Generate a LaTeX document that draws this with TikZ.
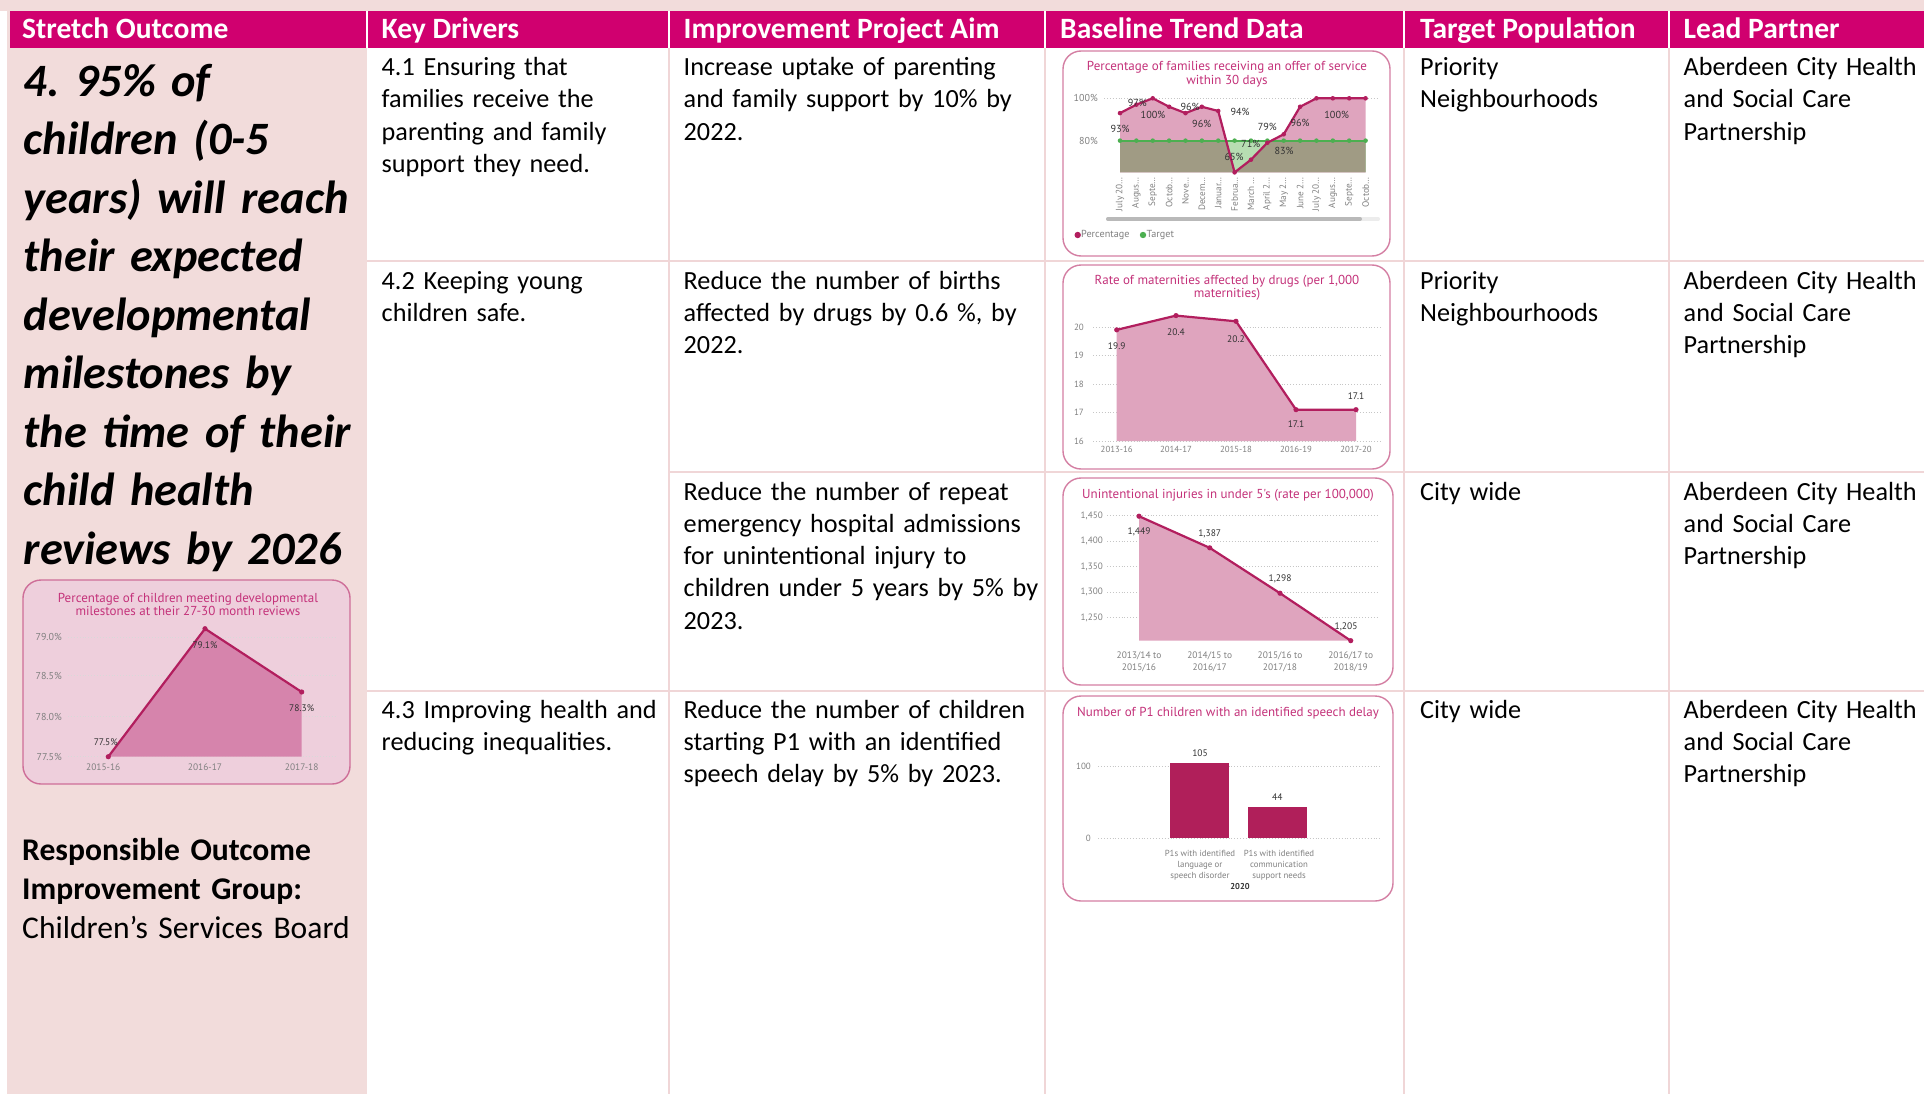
\documentclass[tikz,border=0pt]{standalone}
\usepackage{fontspec}
\setmainfont{Carlito}
\newfontfamily\chartfont{PT Sans}
\frenchspacing
\definecolor{hdr}{HTML}{D0006F}
\definecolor{lpink}{HTML}{F2DCDB}
\definecolor{gridpk}{HTML}{F0D6D7}
\definecolor{boxpk}{HTML}{D47FA3}
\definecolor{ttl}{HTML}{C4327A}
\definecolor{linec}{HTML}{B21E5E}
\definecolor{areapk}{HTML}{DFA4BE}
\definecolor{khaki}{HTML}{A09B84}
\definecolor{lgreen}{HTML}{B7DDB2}
\definecolor{tgreen}{HTML}{4CAF50}
\definecolor{axisg}{HTML}{808080}
\definecolor{labd}{HTML}{333333}
\definecolor{barc}{HTML}{B01F5A}
\definecolor{lcbg}{HTML}{EECFDC}
\definecolor{lcfill}{HTML}{D684AC}
\definecolor{lcbox}{HTML}{CE6E98}
\begin{document}
\begin{tikzpicture}[x=1pt,y=-1pt,
 hdrtxt/.style={anchor=base west, inner sep=0, text=white, font=\fontsize{29.5}{35}\selectfont\bfseries},
 celltxt/.style={anchor=base west, inner sep=0, text width=360pt, align=left, font=\fontsize{26.2}{32.3}\selectfont},
 gridln/.style={draw=gridpk, line width=2.5},
 chartbox/.style={draw=boxpk, line width=1.4, rounded corners=18},
 ctitle/.style={inner sep=0, text=ttl, align=center, font=\chartfont\fontsize{13}{13.3}\selectfont},
 axlab/.style={inner sep=0, text=axisg, font=\chartfont\fontsize{8.8}{10}\selectfont},
 xlab/.style={inner sep=0, text=axisg, align=center, font=\chartfont\fontsize{8.8}{11.3}\selectfont},
 dlab/.style={inner sep=0, text=labd, font=\chartfont\fontsize{9.5}{11}\selectfont},
 gdot/.style={draw=gray!45, dotted, line width=0.9},
 pline/.style={draw=linec, line width=2.2, line join=round}]
\useasboundingbox (0,0) rectangle (1924,1094);
\fill[white] (0,0) rectangle (1924,1094);
% background bands
\fill[lpink] (0,0) rectangle (1924,10.7);
\fill[lpink] (7,10.7) rectangle (367,1094);
\fill[hdr] (10,10.7) rectangle (1924,47.7);
\foreach \x in {367,669,1045,1404,1669} \draw[white,line width=2.5] (\x,10.7) -- (\x,47.7);
% grid
\foreach \x in {669,1045,1404,1669} \draw[gridln] (\x,47.7) -- (\x,1094);
\draw[gridln] (367,261) -- (1924,261);
\draw[gridln] (669,472) -- (1924,472);
\draw[gridln] (367,691) -- (1924,691);
% header
\node[hdrtxt] (h1) at (22,38.5) {Stretch Outcome};
\node[hdrtxt] (h2) at (381.5,38.5) {Key Drivers};
\node[hdrtxt] (h3) at (683.5,38.5) {Improvement Project Aim};
\node[hdrtxt] (h4) at (1060,38.5) {Baseline Trend Data};
\node[hdrtxt] (h5) at (1420,38.5) {Target Population};
\node[hdrtxt] (h6) at (1683.5,38.5) {Lead Partner};
% stretch outcome
\node[anchor=base west, inner sep=0, text width=345pt, align=left, font=\fontsize{46.4}{58.5}\selectfont\bfseries\itshape] (so) at (23.5,96.5)
 {4. 95\% of\\children (0-5\\years) will reach\\their expected\\developmental\\milestones by\\the time of their\\child health\\reviews by 2026};
\node[anchor=base west, inner sep=0, text width=345pt, align=left, font=\fontsize{31.6}{39}\selectfont] (rog) at (22,860)
 {\textbf{Responsible Outcome}\\\textbf{Improvement Group:}\\Children’s Services Board};
% key drivers
\node[celltxt] (kd1) at (381.5,75.5) {4.1 Ensuring that\\families receive the\\parenting and family\\support they need.};
\node[celltxt] (kd2) at (381.5,289) {4.2 Keeping young\\children safe.};
\node[celltxt] (kd3) at (381.5,718) {4.3 Improving health and\\reducing inequalities.};
% aims
\node[celltxt] (a1) at (683.5,75.5) {Increase uptake of parenting\\and family support by 10\% by\\2022.};
\node[celltxt] (a2) at (683.5,289) {Reduce the number of births\\affected by drugs by 0.6 \%, by\\2022.};
\node[celltxt] (a3) at (683.5,500) {Reduce the number of repeat\\emergency hospital admissions\\for unintentional injury to\\children under 5 years by 5\% by\\2023.};
\node[celltxt] (a4) at (683.5,718) {Reduce the number of children\\starting P1 with an identified\\speech delay by 5\% by 2023.};
% target population
\node[celltxt] (t1) at (1420,75.5) {Priority\\Neighbourhoods};
\node[celltxt] (t2) at (1420,289) {Priority\\Neighbourhoods};
\node[celltxt] (t3) at (1420,500) {City wide};
\node[celltxt] (t4) at (1420,718) {City wide};
% lead partner
\node[celltxt] (l1) at (1683.5,75.5) {Aberdeen City Health\\and Social Care\\Partnership};
\node[celltxt] (l2) at (1683.5,289) {Aberdeen City Health\\and Social Care\\Partnership};
\node[celltxt] (l3) at (1683.5,500) {Aberdeen City Health\\and Social Care\\Partnership};
\node[celltxt] (l4) at (1683.5,718) {Aberdeen City Health\\and Social Care\\Partnership};

% ===== Chart 1 =====
\draw[chartbox, fill=white] (1063,51) rectangle (1390,256);
\node[ctitle] (c1t) at (1227,74.3) {Percentage of families receiving an offer of service\\within 30 days};
\draw[gdot] (1104,98.3) -- (1378,98.3);
\begin{scope}[shift={(1120,310)},x=16.37pt,y=2.117pt]
 \fill[areapk] (0,65) -- (0,93) -- (1,97) -- (2,100) -- (3,96) -- (4,93) -- (5,96) -- (6,94) -- (7,65) -- (8,71) -- (9,79) -- (10,83) -- (11,96) -- (12,100) -- (13,100) -- (14,100) -- (15,100) -- (15,65) -- cycle;
 \fill[lgreen] (0,65) rectangle (15,80);
 \fill[khaki] (0,65) -- (0,80) -- (6.483,80) -- (7,65) -- (8,71) -- (9,79) -- (9.25,80) -- (15,80) -- (15,65) -- cycle;
 \draw[tgreen, line width=2] (0,80) -- (15,80);
 \foreach \i in {0,...,15} \fill[tgreen] (\i,80) circle (2.3pt);
 \draw[pline] plot coordinates {(0,93) (1,97) (2,100) (3,96) (4,93) (5,96) (6,94) (7,65) (8,71) (9,79) (10,83) (11,96) (12,100) (13,100) (14,100) (15,100)};
 \foreach \i/\v in {0/93,1/97,2/100,3/96,4/93,5/96,6/94,7/65,8/71,9/79,10/83,11/96,12/100,13/100,14/100,15/100} \fill[linec] (\i,\v) circle (2.3pt);
\end{scope}
\node[axlab, font=\chartfont\fontsize{10}{11}\selectfont, anchor=east] (c1y1) at (1098,98.3) {100\%};
\node[axlab, font=\chartfont\fontsize{10}{11}\selectfont, anchor=east] (c1y2) at (1098,140.6) {80\%};
\foreach \x/\y/\t [count=\n] in {1120/129.3/93\%, 1137.3/102.7/97\%, 1153/115/100\%, 1190/107/96\%, 1201.7/124/96\%, 1240/111.7/94\%, 1234/156.7/65\%, 1250.7/144.3/71\%, 1267.3/127.3/79\%, 1284/151/83\%, 1300/123.3/96\%, 1336.7/115/100\%}
 \node[dlab, font=\chartfont\fontsize{10.2}{11}\selectfont] (c1d\n) at (\x,\y) {\t};
\foreach \i/\t in {0/July 20…,1/Augus…,2/Septe…,3/Octob…,4/Nove…,5/Decem…,6/Januar…,7/Februa…,8/March …,9/April 2…,10/May 2…,11/June 2…,12/July 20…,13/Augus…,14/Septe…,15/Octob…}
 \node[axlab, font=\chartfont\fontsize{9.2}{10}\selectfont, rotate=90, anchor=east] (c1x\i) at ({1120+16.37*\i},177) {\t};
\draw[line width=4, line cap=round, gray!15] (1108,219) -- (1378,219);
\draw[line width=4, line cap=round, gray!55] (1108,219) -- (1360,219);
\fill[linec] (1077.7,235) circle (3.2pt);
\node[axlab, font=\chartfont\fontsize{10.2}{11}\selectfont, anchor=west] (c1lg1) at (1081,235) {Percentage};
\fill[tgreen] (1143,235) circle (3.2pt);
\node[axlab, font=\chartfont\fontsize{10.2}{11}\selectfont, anchor=west] (c1lg2) at (1146.5,235) {Target};

% ===== Chart 2 =====
\draw[chartbox, fill=white] (1063,265) rectangle (1390,469);
\node[ctitle] (c2t) at (1227,288) {Rate of maternities affected by drugs (per 1,000\\maternities)};
\foreach \yy/\t [count=\n] in {327/20,355.5/19,384/18,412.5/17,441/16} {
 \draw[gdot] (1093,\yy) -- (1382,\yy);
 \node[axlab, font=\chartfont\fontsize{9}{10}\selectfont, anchor=east] (c2y\n) at (1084,\yy) {\t};
}
\begin{scope}[shift={(0,897)},y=28.5pt]
 \fill[areapk] (1116.7,16) -- (1116.7,19.9) -- (1176,20.4) -- (1236,20.2) -- (1296,17.1) -- (1356,17.1) -- (1356,16) -- cycle;
 \draw[pline] (1116.7,19.9) -- (1176,20.4) -- (1236,20.2) -- (1296,17.1) -- (1356,17.1);
 \foreach \x/\v in {1116.7/19.9,1176/20.4,1236/20.2,1296/17.1,1356/17.1} \fill[linec] (\x,\v) circle (2.6pt);
\end{scope}
\foreach \x/\y/\t [count=\n] in {1116.7/346/19.9, 1176/332/20.4, 1236/338.7/20.2, 1296/424.3/17.1, 1356/396/17.1}
 \node[dlab] (c2d\n) at (\x,\y) {\t};
\foreach \x/\t [count=\n] in {1116.7/2013-16, 1176/2014-17, 1236/2015-18, 1296/2016-19, 1356/2017-20}
 \node[axlab] (c2x\n) at (\x,449.3) {\t};

% ===== Chart 3 =====
\draw[chartbox, fill=white] (1063,478) rectangle (1393,685);
\node[ctitle] (c3t) at (1228,495.7) {Unintentional injuries in under 5's (rate per 100,000)};
\foreach \yy/\t [count=\n] in {515.7/{1,450},541.2/{1,400},566.7/{1,350},592.2/{1,300},617.7/{1,250}} {
 \draw[gdot] (1107,\yy) -- (1378,\yy);
 \node[axlab, font=\chartfont\fontsize{9.2}{10}\selectfont, anchor=east] (c3y\n) at (1103,\yy) {\t};
}
\begin{scope}[shift={(0,1255.2)},y=0.51pt]
 \fill[areapk] (1139,1205) -- (1139,1449) -- (1209.7,1387) -- (1280,1298) -- (1350.7,1205) -- cycle;
 \draw[pline] (1139,1449) -- (1209.7,1387) -- (1280,1298) -- (1350.7,1205);
 \foreach \x/\v in {1139/1449,1209.7/1387,1280/1298,1350.7/1205} \fill[linec] (\x,\v) circle (2.6pt);
\end{scope}
\foreach \x/\y/\t [count=\n] in {1139/532.3/{1,449}, 1209.7/534.3/{1,387}, 1280/579/{1,298}, 1346/627.3/{1,205}}
 \node[dlab] (c3d\n) at (\x,\y) {\t};
\foreach \x/\a/\b [count=\n] in {1139/2013\slash 14 to/2015\slash 16, 1209.7/2014\slash 15 to/2016\slash 17, 1280/2015\slash 16 to/2017\slash 18, 1350.7/2016\slash 17 to/2018\slash 19}
 \node[xlab, font=\chartfont\fontsize{9.4}{11.3}\selectfont] (c3x\n) at (\x,661.7) {\a\\\b};

% ===== Chart 4 =====
\draw[chartbox, fill=white] (1063,696) rectangle (1393,901);
\node[ctitle] (c4t) at (1228,713.3) {Number of P1 children with an identified speech delay};
\draw[gdot] (1098,766.7) -- (1382,766.7);
\draw[gdot] (1098,838.3) -- (1382,838.3);
\node[axlab, font=\chartfont\fontsize{9}{10}\selectfont, anchor=east] (c4y1) at (1091,766.7) {100};
\node[axlab, font=\chartfont\fontsize{9}{10}\selectfont, anchor=east] (c4y2) at (1091,838.3) {0};
\fill[barc] (1170,763) rectangle (1229.3,838.3);
\fill[barc] (1247.7,806.6) rectangle (1307.3,838.3);
\node[dlab] (c4d1) at (1200,752.7) {105};
\node[dlab] (c4d2) at (1277.3,797.3) {44};
\node[xlab] (c4x1) at (1200,865.3) {P1s with identified\\language or\\speech disorder};
\node[xlab] (c4x2) at (1279,865.3) {P1s with identified\\communication\\support needs};
\node[dlab, font=\chartfont\bfseries\fontsize{8.5}{10}\selectfont] (c4yr) at (1240,886.7) {2020};

% ===== Left chart =====
\draw[draw=lcbox, line width=1.4, rounded corners=18, fill=lcbg] (23,580) rectangle (350,784);
\node[ctitle] (lct) at (188,604.3) {Percentage of children meeting developmental\\milestones at their 27-30 month reviews};
\foreach \yy/\t [count=\n] in {637.3/79.0\%,675.7/78.5\%,716.7/78.0\%,756.7/77.5\%} {
 \draw[gdot, draw=gray!30] (68,\yy) -- (337,\yy);
 \node[axlab, font=\chartfont\fontsize{10}{11}\selectfont, anchor=east] (lcy\n) at (62,\yy) {\t};
}
\fill[lcfill] (108.3,756.7) -- (205,628.7) -- (301.7,692) -- (301.7,756.7) -- cycle;
\draw[pline] (108.3,756.7) -- (205,628.7) -- (301.7,692);
\foreach \p in {(108.3,756.7),(205,628.7),(301.7,692)} \fill[linec] \p circle (2.6pt);
\node[dlab] (lcd1) at (105.7,741.7) {77.5\%};
\node[dlab] (lcd2) at (205,645) {79.1\%};
\node[dlab] (lcd3) at (301.7,708.3) {78.3\%};
\node[axlab, font=\chartfont\fontsize{9.4}{10}\selectfont] (lcx1) at (103.3,767.7) {2015-16};
\node[axlab, font=\chartfont\fontsize{9.4}{10}\selectfont] (lcx2) at (205,767.7) {2016-17};
\node[axlab, font=\chartfont\fontsize{9.4}{10}\selectfont] (lcx3) at (301.7,767.7) {2017-18};
\end{tikzpicture}
\end{document}
